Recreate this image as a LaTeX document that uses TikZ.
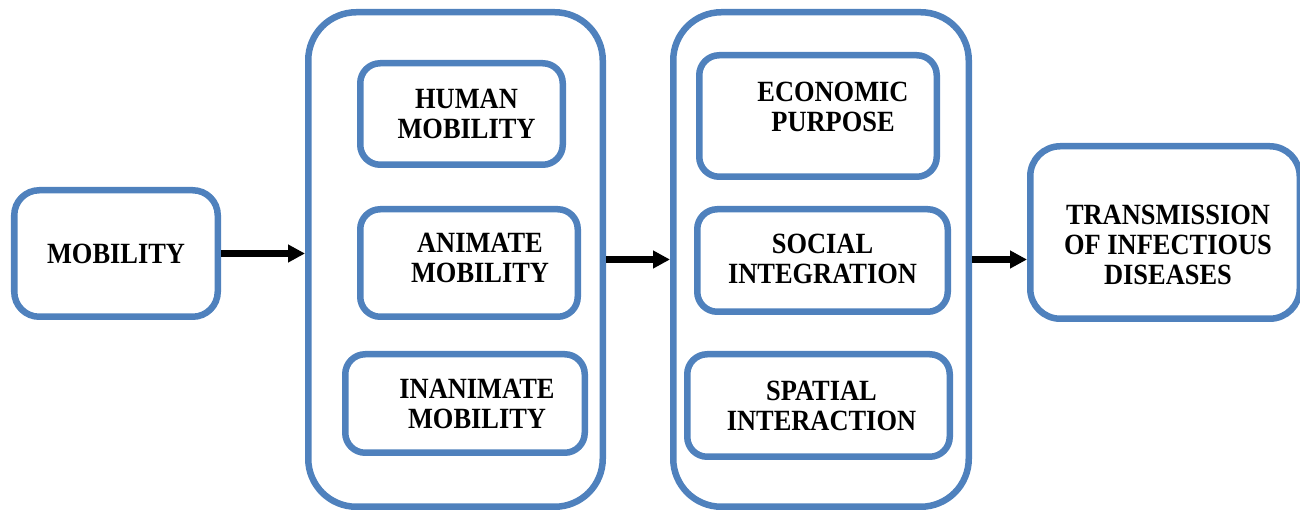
\documentclass[tikz,border=0pt]{standalone}
\usepackage{fontspec}
\setmainfont{Liberation Serif}[FakeStretch=0.9]
\usetikzlibrary{arrows.meta}
\definecolor{boxblue}{HTML}{4F81BD}

\begin{document}
\begin{tikzpicture}[font=\fontsize{16.7}{17.1}\selectfont\bfseries,
        box/.style={draw=boxblue, line width=3.7pt, rounded corners=0.4cm, align=center, inner sep=0pt},
        txt/.style={align=center, inner sep=0pt},
        arr/.style={line width=3.8pt, arrows={-Triangle[length=0.34cm, width=0.34cm]}}]
        \useasboundingbox (0,0) rectangle (26,-10.2);
        % left and right ends
        \node[box, rounded corners=0.5cm, minimum width=4.07cm, minimum height=2.53cm] (mob) at (2.32,-5.07) {MOBILITY};
        \node[box, rounded corners=0.6cm, minimum width=5.39cm, minimum height=3.45cm,
          label={[txt, xshift=0.06cm, yshift=-0.24cm]center:TRANSMISSION\\OF INFECTIOUS\\DISEASES}] (trans) at (23.3,-4.65) {};
        % the two groups
        \node[box, rounded corners=0.96cm, minimum width=5.89cm, minimum height=9.89cm] (grp1) at (9.11,-5.19) {};
        \node[box, rounded corners=0.96cm, minimum width=5.91cm, minimum height=9.89cm] (grp2) at (16.42,-5.19) {};
        \node[box, minimum width=4.05cm, minimum height=2.03cm,
          label={[txt, xshift=0.1cm]center:HUMAN\\MOBILITY}] (human) at (9.23,-2.28) {};
        \node[box, minimum width=4.35cm, minimum height=2.15cm,
          label={[txt, xshift=0.22cm, yshift=0.1cm]center:ANIMATE\\MOBILITY}] (animate) at (9.38,-5.26) {};
        \node[box, minimum width=4.79cm, minimum height=1.97cm,
          label={[txt, xshift=0.24cm]center:INANIMATE\\MOBILITY}] (inanimate) at (9.30,-8.07) {};
        \node[box, minimum width=4.75cm, minimum height=2.43cm,
          label={[txt, xshift=0.3cm, yshift=0.18cm]center:ECONOMIC\\PURPOSE}] (econ) at (16.36,-2.32) {};
        \node[box, minimum width=5.01cm, minimum height=2.05cm,
          label={[txt, yshift=0.04cm]center:SOCIAL\\INTEGRATION}] (social) at (16.45,-5.21) {};
        \node[box, minimum width=5.25cm, minimum height=2.05cm,
          label={[txt, xshift=0.06cm]center:SPATIAL\\INTERACTION}] (spatial) at (16.37,-8.11) {};
        % arrows
        \draw[arr] (mob.east) -- (mob.east -| grp1.west);
        \draw[arr] (grp1.east) -- (grp2.west);
        \draw[arr] (grp2.east) -- (grp2.east -| trans.west);
      \end{tikzpicture}
\end{document}
